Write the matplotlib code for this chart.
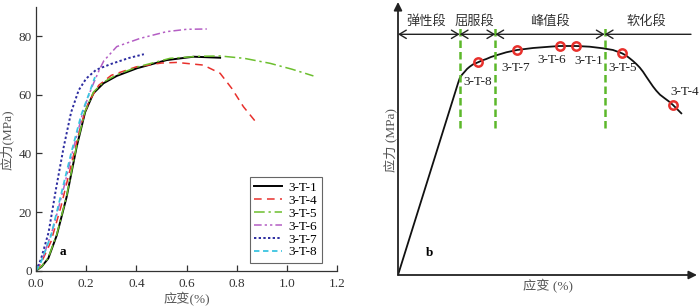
import matplotlib
matplotlib.use("Agg")
import matplotlib.pyplot as plt

plt.rcParams['font.family'] = ['Liberation Serif', 'Noto Sans CJK SC']
plt.rcParams['axes.unicode_minus'] = False

# ---------------- panel a data ----------------
t1_x = [0, 0.0226, 0.049, 0.0825, 0.122, 0.162, 0.196, 0.229, 0.269, 0.322, 0.402, 0.521, 0.628, 0.734]
t1_y = [0, 1.4, 4.2, 12.0, 25.1, 42.2, 54.1, 60.5, 63.9, 66.4, 69.0, 71.8, 72.95, 72.6]

t5_x = [0, 0.0226, 0.049, 0.0825, 0.122, 0.162, 0.196, 0.229, 0.269, 0.322, 0.402, 0.534, 0.65, 0.734, 0.83, 0.933, 1.02, 1.106]
t5_y = [0, 1.5, 4.4, 12.3, 25.5, 42.6, 54.5, 60.9, 64.3, 66.8, 69.4, 72.4, 73.1, 73.2, 72.4, 70.7, 68.7, 66.4]

t4_x = [0, 0.02, 0.06, 0.10, 0.14, 0.18, 0.21, 0.25, 0.30, 0.40, 0.50, 0.561, 0.667, 0.734, 0.780, 0.827, 0.885]
t4_y = [0, 2.5, 10, 22, 36, 50, 57.5, 63.2, 66.6, 69.5, 70.8, 71.0, 70.1, 67.3, 62.2, 55.9, 49.8]

t6_x = [0, 0.03, 0.07, 0.11, 0.15, 0.19, 0.22, 0.25, 0.27, 0.322, 0.415, 0.521, 0.601, 0.681]
t6_y = [0, 5, 15, 28, 42, 55, 62, 68, 71.5, 76.4, 79.2, 81.5, 82.3, 82.4]

t7_x = [0, 0.02, 0.05, 0.08, 0.11, 0.14, 0.17, 0.20, 0.24, 0.30, 0.37, 0.43]
t7_y = [0, 4, 13, 28, 42, 54, 61.5, 65.5, 68.5, 70.5, 72.5, 73.8]

t8_x = [0, 0.02, 0.06, 0.10, 0.14, 0.18, 0.21, 0.235]
t8_y = [0, 3, 12, 26, 40, 53, 60, 66]

series_labels = ['3-T-1', '3-T-4', '3-T-5', '3-T-6', '3-T-7', '3-T-8']
x_ticks = [0.0, 0.2, 0.4, 0.6, 0.8, 1.0, 1.2]
y_ticks = [0, 20, 40, 60, 80]

# ---------------- panel b data ----------------
b_x = [0, 60, 61.7, 64, 66.7, 69, 71.7, 75, 80, 84, 88.3, 93, 98.3, 108.3, 119, 135, 151.7, 161.7, 178.3, 191.7,
       205, 215, 224, 228, 231.7, 235, 238.3, 241.7, 245, 248.3, 251.7, 255, 258.3, 262, 266.7, 271, 275, 279, 283.3]
b_y = [0, 191.7, 196.7, 200.3, 203.3, 206, 208.3, 210.6, 212.7, 214.5, 216, 218, 219.7, 222.7, 225, 227, 228.3, 229, 229, 228.3,
       226.7, 225, 221.7, 219.5, 216.7, 214, 211, 207.5, 203.3, 198.3, 193.3, 188.5, 184.3, 180.3, 176.7, 173.5, 170, 166, 161.7]

pt_labels = ['3-T-8', '3-T-7', '3-T-6', '3-T-1', '3-T-5', '3-T-4']
pt_x = [80, 119, 161.7, 178.3, 224, 275]
pt_y = [212.7, 225, 229, 229, 221.7, 170]

stage_labels = ['弹性段', '屈服段', '峰值段', '软化段']
stage_bounds = [0, 61.7, 97.3, 206.7, 293]

W, H = 700, 307
fig = plt.figure(figsize=(W / 100, H / 100), dpi=100)
FS = 9.5

# ================= panel a =================
ax = fig.add_axes([36 / W, (H - 270.7) / H, 301 / W, 264 / H])
styles = [
    dict(color='black', ls='-', lw=1.4),
    dict(color='#e8302c', ls=(0, (5, 3.5)), lw=1.1),
    dict(color='#6cbf2e', ls=(0, (7, 2.5, 1.5, 2.5)), lw=1.1),
    dict(color='#b45ec4', ls=(0, (5, 2, 1.5, 2, 1.5, 2)), lw=1.1),
    dict(color='#2c2ca0', ls=(0, (1.2, 1.2)), lw=1.4),
    dict(color='#3cc4e0', ls=(0, (3, 2)), lw=1.3),
]
xs = [t1_x, t4_x, t5_x, t6_x, t7_x, t8_x]
ys = [t1_y, t4_y, t5_y, t6_y, t7_y, t8_y]
for x, y, lab, st in zip(xs, ys, series_labels, styles):
    ax.plot(x, y, label=lab, **st)

ax.set_xlim(0, 1.2)
ax.set_ylim(0, 90)
ax.set_xticks(x_ticks)
ax.set_xticklabels([f'{v:.1f}' for v in x_ticks])
ax.set_yticks(y_ticks)
for s in ['top', 'right']:
    ax.spines[s].set_visible(False)
for s in ['left', 'bottom']:
    ax.spines[s].set_color('#333333')
    ax.spines[s].set_linewidth(0.9)
ax.tick_params(direction='in', length=4, width=0.9, labelsize=FS, colors='#333333')
ax.tick_params(axis='x', pad=5)
ax.tick_params(axis='y', pad=3)
fig.text(187 / W, 1 - 299 / H, '应变(%)', fontsize=FS, color='#555555', ha='center', va='center')
fig.text(7 / W, 1 - 140 / H, '应力(MPa)', rotation=90, fontsize=FS, color='#555555',
         ha='center', va='center')
ax.text(0.108, 6.5, 'a', fontsize=FS, fontweight='bold', ha='center', va='center')
leg = ax.legend(loc='lower left', bbox_to_anchor=(0.71, 0.029), fontsize=FS,
                handlelength=2.1, labelspacing=0.05, borderpad=0.35, handletextpad=0.5,
                fancybox=False, framealpha=1, edgecolor='#666666', borderaxespad=0)
leg.get_frame().set_linewidth(0.8)

# ================= panel b =================
bx = fig.add_axes([398 / W, 32 / H, 299 / W, 273 / H])
bx.set_xlim(0, 299)
bx.set_ylim(0, 273)
bx.axis('off')
bx.annotate('', xy=(0, 273), xytext=(0, 0),
            arrowprops=dict(arrowstyle='-|>', color='#222222', lw=1.3, mutation_scale=12,
                            shrinkA=0, shrinkB=0))
bx.annotate('', xy=(299, 0), xytext=(0, 0),
            arrowprops=dict(arrowstyle='-|>', color='#222222', lw=1.3, mutation_scale=12,
                            shrinkA=0, shrinkB=0))
bx.plot(b_x, b_y, color='#111111', lw=1.3)
bx.plot(pt_x, pt_y, ls='none', marker='o', ms=6, mfc='none', mec='#e8302c', mew=1.8)
offsets = [(0, -19.5), (-1.7, -18.3), (-8.4, -14), (12.7, -15), (0.3, -15), (11.7, 13.3)]
for lab, x, y, (dx, dy) in zip(pt_labels, pt_x, pt_y, offsets):
    bx.text(x + dx, y + dy, lab, fontsize=FS, ha='center', va='center', color='#222222')

for xb in stage_bounds[1:4]:
    bx.plot([xb, xb], [146.7, 246.7], color='#5cb82a', ls=(0, (3, 1.6)), lw=1.8)
arrow_y = 240.7
for i in range(4):
    a0, a1 = stage_bounds[i], stage_bounds[i + 1]
    style = '<->' if i < 3 else '<-'
    bx.annotate('', xy=(a1, arrow_y), xytext=(a0, arrow_y),
                arrowprops=dict(arrowstyle=style + ',head_length=0.5,head_width=0.3',
                                color='#222222', lw=1.0, shrinkA=0, shrinkB=0))
stage_x = [28.3, 76.7, 151.7, 248.3]
for lab, x in zip(stage_labels, stage_x):
    bx.text(x, 254, lab, fontsize=FS, ha='center', va='center', color='#333333')

bx.text(31.7, 22.3, 'b', fontsize=FS, fontweight='bold', ha='center', va='center')
fig.text(390 / W, 1 - 140 / H, '应力 (MPa)', rotation=90, fontsize=FS, color='#555555',
         ha='center', va='center')
fig.text(548 / W, 1 - 286 / H, '应变 (%)', fontsize=FS, color='#555555', ha='center', va='center')

fig.savefig('out.png', dpi=100)
